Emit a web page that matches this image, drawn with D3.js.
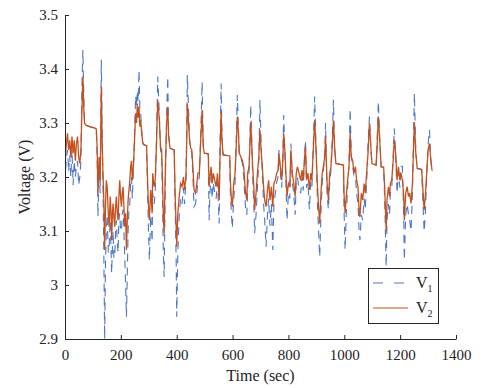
<!DOCTYPE html>
<html>
<head>
<meta charset="utf-8">
<script src="https://cdn.jsdelivr.net/npm/d3@7"></script>
<style>
  body { margin: 0; background: #fff; }
</style>
</head>
<body>
<script>
// time (sec) and the two voltage traces
const time = [0,4,9,13,17,21,25,29,33,37,41,45,49,53,57,61,64,67,70,75,90,105,112,115,118,122,126,128,130,133,136,139,142,145,148,151,155,158,162,165,167,170,172,175,178,181,184,187,190,193,196,199,202,205,208,211,214,217,220,223,226,229,232,235,238,241,244,247,250,253,256,259,262,265,268,271,274,278,281,292,
  295,298,302,307,312,314,319,323,328,332,335,338,342,346,350,352,355,359,364,368,371,376,391,394,398,400,404,409,414,419,424,428,433,436,438,442,446,450,454,458,462,467,472,476,481,486,491,495,499,513,516,519,523,527,531,536,541,546,550,552,555,559,562,566,590,
  592,596,599,604,609,614,617,621,624,630,635,640,643,647,651,654,659,662,665,668,672,676,679,684,689,694,698,703,708,711,715,720,725,729,734,739,744,748,753,758,763,766,771,776,780,783,787,791,795,800,805,809,814,819,824,828,
  832,838,844,849,853,858,861,865,870,875,880,884,889,894,899,904,908,912,917,921,925,930,933,938,943,948,952,957,961,966,970,997,999,1003,1007,1012,1017,1021,1025,1030,1035,1040,1044,1049,1053,1056,1061,1066,1071,1075,1080,1085,1090,1095,1099,1114,
  1117,1122,1127,1132,1141,1145,1150,1153,1158,1162,1165,1170,1175,1179,1184,1189,1194,1199,1203,1208,1213,1215,1220,1225,1230,1234,1239,1244,1247,1251,1256,1261,1277,1281,1286,1290,1295,1300,1305,1310,1314,1316];

const v2 = [3.219,3.256,3.281,3.25,3.268,3.237,3.275,3.244,3.268,3.23,3.262,3.275,3.237,3.225,3.25,3.33,3.386,3.33,3.3,3.296,3.293,3.291,3.289,3.256,3.17,3.237,3.195,3.268,3.367,3.268,3.207,3.157,3.065,3.145,3.194,3.182,3.133,3.108,3.164,3.133,3.083,3.133,3.151,3.127,3.108,3.145,3.164,3.133,3.12,3.164,3.194,3.164,3.145,3.17,3.182,3.145,3.108,3.133,3.065,3.12,3.157,3.176,3.194,3.219,3.23,3.194,3.213,3.244,3.281,3.318,3.3,3.336,3.31,3.33,3.293,3.305,3.285,3.265,3.26,3.258,
  3.207,3.157,3.12,3.176,3.133,3.207,3.182,3.194,3.268,3.343,3.324,3.305,3.256,3.25,3.176,3.127,3.096,3.207,3.3,3.33,3.275,3.253,3.25,3.176,3.108,3.071,3.133,3.164,3.188,3.182,3.2,3.176,3.2,3.268,3.336,3.305,3.268,3.253,3.25,3.219,3.176,3.17,3.188,3.207,3.207,3.268,3.324,3.256,3.244,3.243,3.182,3.2,3.219,3.188,3.207,3.194,3.182,3.207,3.176,3.157,3.237,3.321,3.268,3.241,3.239,
  3.194,3.157,3.145,3.188,3.207,3.268,3.312,3.281,3.244,3.237,3.23,3.219,3.194,3.17,3.157,3.207,3.219,3.256,3.302,3.268,3.219,3.182,3.139,3.17,3.207,3.237,3.287,3.244,3.207,3.182,3.157,3.145,3.176,3.194,3.157,3.182,3.145,3.188,3.194,3.207,3.213,3.244,3.219,3.194,3.23,3.281,3.25,3.207,3.164,3.188,3.182,3.25,3.207,3.188,3.164,3.207,
  3.219,3.207,3.194,3.213,3.194,3.237,3.256,3.194,3.207,3.176,3.207,3.194,3.25,3.305,3.25,3.182,3.145,3.114,3.176,3.207,3.219,3.237,3.275,3.194,3.157,3.207,3.219,3.256,3.305,3.25,3.225,3.222,3.17,3.133,3.164,3.194,3.219,3.281,3.237,3.23,3.207,3.219,3.194,3.182,3.139,3.126,3.17,3.157,3.188,3.17,3.207,3.244,3.3,3.256,3.225,3.222,
  3.25,3.312,3.268,3.219,3.218,3.176,3.099,3.157,3.182,3.164,3.188,3.194,3.23,3.269,3.244,3.194,3.219,3.194,3.207,3.194,3.164,3.12,3.17,3.182,3.164,3.17,3.151,3.188,3.237,3.302,3.244,3.216,3.214,3.182,3.139,3.164,3.207,3.25,3.262,3.231,3.213,3.212];

const v1 = [3.188,3.23,3.25,3.21,3.24,3.2,3.25,3.185,3.23,3.2,3.22,3.23,3.185,3.2,3.23,3.38,3.435,3.36,3.3,3.296,3.293,3.291,3.289,3.24,3.127,3.22,3.17,3.3,3.417,3.28,3.18,3.06,2.9,3.04,3.1,3.13,3.06,3.071,3.12,3.06,3.022,3.07,3.1,3.05,3.05,3.1,3.12,3.08,3.06,3.12,3.133,3.1,3.1,3.13,3.14,3.1,3.05,3.0,2.941,3.02,3.1,3.14,3.15,3.19,3.2,3.16,3.2,3.244,3.3,3.35,3.33,3.36,3.34,3.398,3.33,3.32,3.29,3.265,3.26,3.258,
  3.19,3.12,3.046,3.13,3.08,3.17,3.15,3.17,3.28,3.386,3.35,3.31,3.25,3.24,3.14,3.06,3.015,3.18,3.32,3.386,3.28,3.253,3.25,3.15,3.05,2.941,3.06,3.13,3.16,3.15,3.18,3.15,3.19,3.29,3.389,3.33,3.27,3.25,3.245,3.2,3.145,3.15,3.17,3.19,3.2,3.28,3.376,3.26,3.244,3.243,3.12,3.17,3.2,3.16,3.19,3.17,3.16,3.19,3.14,3.114,3.26,3.373,3.28,3.241,3.239,
  3.17,3.13,3.105,3.16,3.19,3.29,3.352,3.29,3.24,3.235,3.225,3.2,3.17,3.14,3.13,3.18,3.21,3.27,3.333,3.28,3.2,3.15,3.096,3.13,3.18,3.23,3.343,3.25,3.19,3.15,3.12,3.071,3.13,3.16,3.11,3.15,3.065,3.15,3.17,3.19,3.2,3.25,3.21,3.18,3.24,3.315,3.25,3.19,3.12,3.17,3.16,3.262,3.19,3.17,3.13,3.19,
  3.2,3.18,3.17,3.2,3.175,3.24,3.268,3.18,3.19,3.14,3.19,3.18,3.26,3.349,3.25,3.15,3.1,3.052,3.14,3.19,3.21,3.24,3.3,3.17,3.14,3.19,3.21,3.27,3.343,3.25,3.225,3.222,3.14,3.065,3.13,3.18,3.23,3.327,3.24,3.22,3.2,3.2,3.17,3.15,3.1,3.083,3.13,3.12,3.16,3.14,3.19,3.26,3.312,3.255,3.225,3.222,
  3.26,3.34,3.27,3.219,3.218,3.15,3.034,3.12,3.15,3.13,3.17,3.18,3.24,3.29,3.24,3.17,3.21,3.18,3.22,3.22,3.12,3.046,3.13,3.15,3.13,3.12,3.1,3.17,3.25,3.355,3.25,3.216,3.214,3.16,3.099,3.13,3.2,3.26,3.287,3.23,3.213,3.212];

const xTicks = [0,200,400,600,800,1000,1200,1400];
const yTicks = [2.9,3,3.1,3.2,3.3,3.4,3.5];

const width = 496, height = 388;
const mLeft = 65, mRight = 456, mTop = 15, mBottom = 339;
const blue = "#4a76c8", orange = "#c5501c", axisColor = "#262626";
const serif = '"Liberation Serif"';

const x = d3.scaleLinear().domain([0, 1400]).range([mLeft, mRight]);
const y = d3.scaleLinear().domain([2.9, 3.5]).range([mBottom, mTop]);

const svg = d3.create("svg")
  .attr("width", width)
  .attr("height", height);

svg.append("rect").attr("width", width).attr("height", height).attr("fill", "#fff");

svg.append("defs").append("clipPath").attr("id", "plot")
  .append("rect").attr("x", mLeft).attr("y", mTop)
  .attr("width", mRight - mLeft).attr("height", mBottom - mTop);

const line = values => d3.line()
  .x((d, i) => x(time[i]))
  .y(d => y(d))(values);

const plot = svg.append("g").attr("clip-path", "url(#plot)");

plot.append("path")
  .attr("d", line(v1))
  .attr("fill", "none")
  .attr("stroke", blue)
  .attr("stroke-width", 1.1)
  .attr("stroke-dasharray", "8,6");

plot.append("path")
  .attr("d", line(v2))
  .attr("fill", "none")
  .attr("stroke", orange)
  .attr("stroke-width", 1.3);

// axes, ticks pointing inward
const xAxis = svg.append("g")
  .attr("transform", `translate(0,${mBottom})`)
  .call(d3.axisBottom(x).tickValues(xTicks).tickFormat(d3.format("d")).tickSizeInner(-4).tickSizeOuter(0).tickPadding(10));
const yAxis = svg.append("g")
  .attr("transform", `translate(${mLeft},0)`)
  .call(d3.axisLeft(y).tickValues(yTicks).tickFormat(d3.format("")).tickSizeInner(-4).tickSizeOuter(0).tickPadding(7));

[xAxis, yAxis].forEach(g => {
  g.select(".domain").attr("stroke", axisColor).attr("stroke-width", 1);
  g.selectAll(".tick line").attr("stroke", axisColor);
  g.selectAll(".tick text")
    .attr("fill", "#222")
    .style("font-family", serif)
    .style("font-size", "15px");
});

svg.append("text")
  .attr("x", (mLeft + mRight) / 2)
  .attr("y", 381)
  .attr("text-anchor", "middle")
  .attr("fill", "#222")
  .style("font-family", serif)
  .style("font-size", "16px")
  .text("Time (sec)");

svg.append("text")
  .attr("transform", `translate(30,${(mTop + mBottom) / 2}) rotate(-90)`)
  .attr("text-anchor", "middle")
  .attr("fill", "#222")
  .style("font-family", serif)
  .style("font-size", "16px")
  .text("Voltage (V)");

// legend
const legend = svg.append("g");
legend.append("rect")
  .attr("x", 368.5).attr("y", 268.5)
  .attr("width", 70).attr("height", 55)
  .attr("fill", "#fff")
  .attr("stroke", axisColor);

const items = [
  {name: "V", sub: "1", color: blue, dash: "10,11", yy: 283},
  {name: "V", sub: "2", color: orange, dash: null, yy: 308}
];
items.forEach(it => {
  legend.append("line")
    .attr("x1", 373).attr("x2", 408)
    .attr("y1", it.yy).attr("y2", it.yy)
    .attr("stroke", it.color)
    .attr("stroke-width", 1.2)
    .attr("stroke-dasharray", it.dash);
  const t = legend.append("text")
    .attr("x", 416).attr("y", it.yy + 5)
    .attr("fill", "#222")
    .style("font-family", serif)
    .style("font-size", "16px");
  t.append("tspan").text(it.name);
  t.append("tspan").attr("dy", 4).style("font-size", "10px").text(it.sub);
});

document.body.appendChild(svg.node());
</script>
</body>
</html>
